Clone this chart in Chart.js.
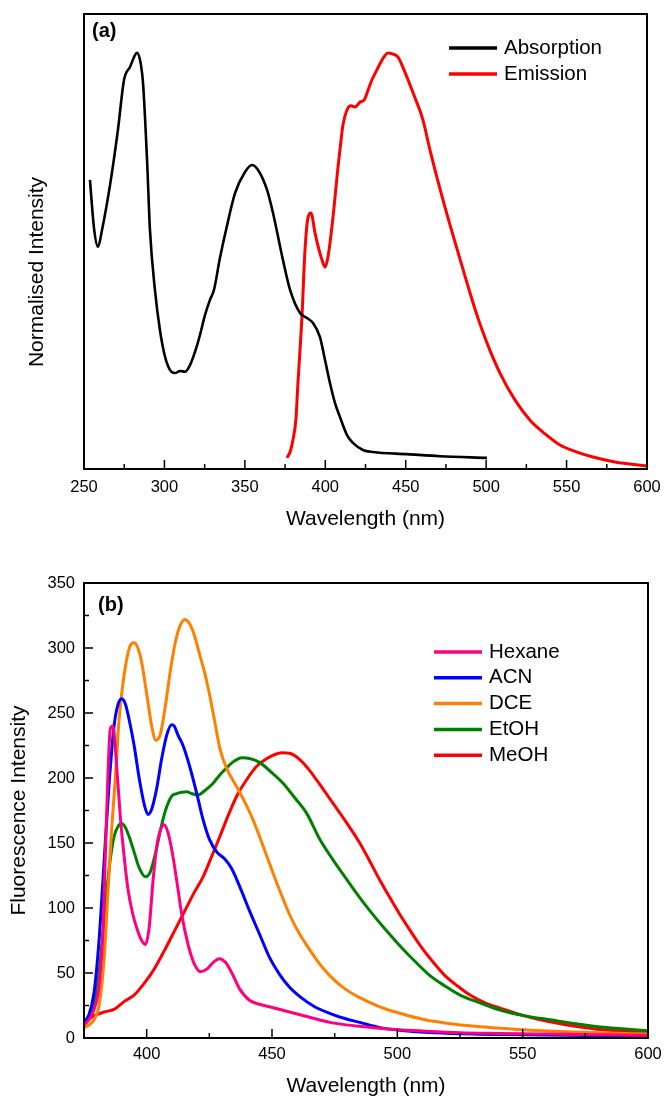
<!DOCTYPE html>
<html>
<head>
<meta charset="utf-8">
<script src="https://cdn.jsdelivr.net/npm/chart.js@4.4.0/dist/chart.umd.min.js"></script>
<style>
    body { margin: 0; background: #fff; }
    canvas { display: block; }
</style>
</head>
<body>
<canvas id="absChart" width="664" height="540"></canvas>
<canvas id="solventChart" width="664" height="559"></canvas>
<script>
// ---------- panel (a): normalised absorption / emission
const absWavelength = [253.7, 256.2, 258.7, 261.2, 266.2, 271.1, 274.9, 278.6, 283, 285.4, 286.7, 289.2, 291, 294.1, 297.2, 300.4, 303.5, 306.6, 309.7, 312.8, 315.9, 319, 322.1, 325.2, 328.3, 330.8, 334.5, 338.3, 343.9, 350.1, 354.4, 358.2, 363.8, 367.5, 373.7, 378.1, 384.3, 388.6, 392.4, 396.7, 399.8, 402.9, 406, 409.1, 413.5, 417.2, 423.4, 429.7, 450.8, 471.3, 500.5];
const absIntensity = [0.699, 0.583, 0.537, 0.578, 0.687, 0.82, 0.941, 0.972, 1.006, 0.977, 0.933, 0.747, 0.578, 0.433, 0.336, 0.271, 0.239, 0.232, 0.237, 0.235, 0.251, 0.283, 0.324, 0.372, 0.409, 0.433, 0.51, 0.578, 0.667, 0.718, 0.735, 0.723, 0.675, 0.619, 0.505, 0.433, 0.377, 0.365, 0.353, 0.319, 0.264, 0.208, 0.16, 0.126, 0.082, 0.063, 0.046, 0.041, 0.036, 0.031, 0.027];

const emWavelength = [376.2, 378.1, 379.9, 381.8, 383, 384.3, 385.5, 387.4, 389.3, 391.1, 393.6, 396.1, 398, 399.8, 401.7, 404.8, 407.9, 409.1, 411, 413.5, 416, 418.5, 421.6, 424.1, 426.6, 429, 432.1, 434.6, 439, 442.1, 445.2, 450.2, 455.1, 460.7, 465.1, 473.2, 480.6, 488.1, 494.3, 500.5, 508.6, 517.9, 527.3, 536.6, 545.9, 556.5, 566.4, 580.1, 600];
const emIntensity = [0.027, 0.041, 0.07, 0.123, 0.208, 0.288, 0.368, 0.53, 0.609, 0.619, 0.571, 0.53, 0.505, 0.488, 0.513, 0.609, 0.73, 0.771, 0.832, 0.868, 0.878, 0.875, 0.887, 0.892, 0.916, 0.941, 0.965, 0.984, 1.006, 1.003, 0.996, 0.953, 0.904, 0.844, 0.771, 0.65, 0.549, 0.45, 0.372, 0.305, 0.232, 0.167, 0.118, 0.085, 0.058, 0.041, 0.029, 0.017, 0.007];

const topXLabels = [250, 300, 350, 400, 450, 500, 550, 600];
const topXMinor = [275, 325, 375, 425, 475, 525, 575];

// ---------- panel (b): fluorescence in different solvents
const hexWavelength = [375, 377, 379, 381, 382.5, 383.5, 384.5, 385.5, 386.5, 388, 389.5, 391, 392.5, 394.5, 396.5, 398, 399.5, 401, 402.5, 404, 405.5, 407, 408.5, 410, 412, 414, 416.5, 419, 421.5, 424, 426.5, 429, 431.5, 434, 437, 441, 445, 449, 457, 465, 473, 485, 496, 509, 525, 541, 560, 580, 600];
const hexIntensity = [10, 14, 22, 40, 80, 140, 200, 238, 240, 210, 170, 140, 115, 95, 82, 75, 72, 85, 120, 147, 160, 164, 158, 145, 121, 95, 72, 57, 51, 53, 58, 61, 58, 50, 38, 29, 26, 24, 20, 16, 12, 9, 7, 5.5, 4, 3.5, 3, 2.5, 2];

const acnWavelength = [375, 377, 379, 381, 383, 385, 387, 388.5, 390, 391.5, 393, 395, 397, 399, 400.5, 402, 404, 406, 408, 410, 411, 412.5, 414.5, 417, 420, 422.5, 425, 428, 431, 434, 437, 441, 445, 449, 453, 457, 461, 467, 473, 479, 485, 493, 501, 515, 530, 550, 575, 600];
const acnIntensity = [12, 18, 35, 75, 135, 195, 240, 256, 261, 257, 245, 225, 200, 180, 172, 176, 192, 215, 233, 241, 240, 233, 225, 210, 188, 168, 153, 143, 138, 130, 117, 98, 80, 62, 49, 39, 32, 24, 19, 15, 12, 8, 6, 4, 3, 2.5, 2, 1.5];

const dceWavelength = [375, 377, 379, 381, 383, 384.5, 386, 387.5, 389, 390.5, 392, 393.5, 395, 396.5, 398, 400, 402, 403.7, 405.5, 407.5, 409.5, 411.5, 413.5, 415.3, 417, 419, 421, 423, 425, 427, 429.3, 432, 436, 439, 442.4, 446, 450.4, 454, 457, 461, 465, 469, 473, 479, 485, 493, 501, 511, 521, 531, 541, 553, 565, 580, 600];
const dceIntensity = [8, 10, 14, 25, 60, 110, 160, 200, 245, 272, 291, 302, 304, 300, 289, 265, 240, 229, 234, 256, 283, 305, 318, 322, 319, 310, 296, 282, 265, 245, 222, 207, 193, 182, 168, 150, 127, 109, 95, 80, 68, 57, 48, 38, 31, 24, 19, 14, 11, 9, 7.5, 6, 5, 4, 3];

const etohWavelength = [375, 377, 379, 381, 383, 385, 387, 389, 390, 391.5, 393, 395, 397, 399.5, 401.5, 403.5, 405.5, 407.5, 410, 412, 414, 416, 418, 420.5, 423, 426.5, 429, 432, 435, 438, 441, 445, 450, 454.4, 459, 463.8, 469, 474, 479.8, 485, 489, 495, 501, 507, 513, 519, 525, 533, 541, 551, 561, 571, 581, 591, 600];
const etohIntensity = [12, 15, 25, 50, 90, 130, 155, 164, 165, 162, 155, 143, 131, 124, 128, 142, 160, 175, 186, 188, 189, 189.5, 188, 187, 190, 196, 202, 208, 213, 215.5, 215, 212, 204, 196, 185, 173, 153, 138, 122, 108, 98, 84, 71, 59, 48, 40, 33, 27, 21.5, 17, 14, 11, 8.5, 7, 5.5];

const meohWavelength = [375, 379, 383, 387, 391, 395, 399, 403, 407, 411, 415, 419, 422.5, 426, 429.2, 432.5, 435.9, 440, 443.9, 448, 451, 453.9, 457, 461.2, 464.5, 467.8, 472, 477.1, 481, 485, 489, 493, 497, 501, 505, 509, 514, 519, 524, 529, 535, 541, 549, 557, 565, 573, 581, 589, 600];
const meohIntensity = [12, 17, 20, 22, 28, 33, 42, 53, 67, 82, 97, 112, 124, 140, 155, 171, 186, 199, 209, 215, 218, 219.5, 219, 214, 207, 198.5, 187, 173, 162, 150, 136, 121.5, 108, 95, 83, 71.5, 59, 48, 40, 33, 27, 23, 18, 14, 11, 8.5, 6.5, 5.4, 3.8];

const bottomXLabels = [400, 450, 500, 550, 600];
const bottomXMinor = [425, 475, 525, 575];
const bottomYLabels = [0, 50, 100, 150, 200, 250, 300, 350];
const bottomYMinor = [25, 75, 125, 175, 225, 275, 325];

Chart.defaults.font.family = '"Liberation Sans", Arial, sans-serif';
Chart.defaults.color = '#000';

const toPoints = (xs, ys) => xs.map((x, i) => ({x: x, y: ys[i]}));

// frame, inward ticks, legend inside plot, panel letter
const framePlugin = {
    id: 'frame',
    afterDatasetsDraw(chart, args, opts) {
        const {ctx, chartArea: a, scales} = chart;
        ctx.save();
        ctx.strokeStyle = '#000';
        ctx.lineWidth = 1.5;
        const xTick = (vals, len) => vals.forEach(v => {
            const px = scales.x.getPixelForValue(v);
            ctx.beginPath(); ctx.moveTo(px, a.bottom); ctx.lineTo(px, a.bottom - len); ctx.stroke();
        });
        const yTick = (vals, len) => vals.forEach(v => {
            const py = scales.y.getPixelForValue(v);
            ctx.beginPath(); ctx.moveTo(a.left, py); ctx.lineTo(a.left + len, py); ctx.stroke();
        });
        xTick(opts.xMajor || [], 9);
        xTick(opts.xMinor || [], 5);
        yTick(opts.yMajor || [], 9);
        yTick(opts.yMinor || [], 5);

        ctx.lineWidth = 2;
        ctx.strokeRect(a.left, a.top, a.right - a.left, a.bottom - a.top);

        const lg = opts.legend;
        ctx.font = '20.5px "Liberation Sans", Arial, sans-serif';
        ctx.textBaseline = 'middle';
        ctx.textAlign = 'left';
        chart.data.datasets.forEach((ds, i) => {
            const y = lg.y + i * lg.dy;
            ctx.strokeStyle = ds.borderColor;
            ctx.lineWidth = 3.5;
            ctx.beginPath(); ctx.moveTo(lg.x, y); ctx.lineTo(lg.x + 48, y); ctx.stroke();
            ctx.fillStyle = '#000';
            ctx.fillText(ds.label, lg.x + 55, y);
        });

        ctx.font = 'bold 20px "Liberation Sans", Arial, sans-serif';
        ctx.fillText(opts.panel.text, opts.panel.x, opts.panel.y);

        if (opts.yTitle) {
            ctx.font = '21px "Liberation Sans", Arial, sans-serif';
            ctx.translate(opts.yTitle.x, opts.yTitle.y);
            ctx.rotate(-Math.PI / 2);
            ctx.textAlign = 'center';
            ctx.fillText(opts.yTitle.text, 0, 0);
        }
        ctx.restore();
    }
};

//////////////////////// panel (a)

const absConfig = {
    type: 'line',
    data: {
        datasets: [{
            label: 'Absorption',
            data: toPoints(absWavelength, absIntensity),
            borderColor: '#000000',
            borderWidth: 2.6,
        }, {
            label: 'Emission',
            data: toPoints(emWavelength, emIntensity),
            borderColor: '#ff0000',
            borderWidth: 3,
        }]
    },
    options: {
        responsive: false,
        animation: false,
        devicePixelRatio: 1,
        cubicInterpolationMode: 'monotone',
        elements: { point: { radius: 0 } },
        layout: { padding: { top: 14, right: 17, left: 84, bottom: 0 } },
        plugins: {
            legend: { display: false },
            tooltip: { enabled: false },
            frame: {
                xMajor: topXLabels,
                xMinor: topXMinor,
                legend: { x: 449, y: 48, dy: 26 },
                panel: { text: '(a)', x: 92, y: 31 },
                yTitle: { text: 'Normalised Intensity', x: 37, y: 272 },
            }
        },
        scales: {
            x: {
                type: 'linear',
                min: 250,
                max: 600,
                afterBuildTicks: scale => { scale.ticks = topXLabels.map(v => ({value: v})); },
                afterFit: scale => {
                    scale.height = 71;
                    scale.paddingLeft = 0;
                    scale.paddingRight = 0;
                },
                grid: { display: false, drawTicks: false },
                border: { display: false },
                ticks: { font: { size: 16.5 }, padding: 9, maxRotation: 0 },
                title: { display: true, text: 'Wavelength (nm)', font: { size: 21 }, padding: { top: 0, bottom: 8 } }
            },
            y: {
                display: false,
                min: 0,
                max: 1.1
            }
        }
    },
    plugins: [framePlugin]
};

const absChart = new Chart(
    document.getElementById('absChart'),
    absConfig
);

//////////////////////// panel (b)

const solventConfig = {
    type: 'line',
    data: {
        datasets: [{
            label: 'Hexane',
            data: toPoints(hexWavelength, hexIntensity),
            borderColor: '#ff0080',
        }, {
            label: 'ACN',
            data: toPoints(acnWavelength, acnIntensity),
            borderColor: '#0000ff',
        }, {
            label: 'DCE',
            data: toPoints(dceWavelength, dceIntensity),
            borderColor: '#ff8000',
        }, {
            label: 'EtOH',
            data: toPoints(etohWavelength, etohIntensity),
            borderColor: '#008000',
        }, {
            label: 'MeOH',
            data: toPoints(meohWavelength, meohIntensity),
            borderColor: '#ff0000',
        }]
    },
    options: {
        responsive: false,
        animation: false,
        devicePixelRatio: 1,
        cubicInterpolationMode: 'monotone',
        elements: { point: { radius: 0 }, line: { borderWidth: 3 } },
        layout: { padding: { top: 43, right: 16, left: 0, bottom: 0 } },
        plugins: {
            legend: { display: false },
            tooltip: { enabled: false },
            frame: {
                xMajor: bottomXLabels,
                xMinor: bottomXMinor,
                yMajor: bottomYLabels,
                yMinor: bottomYMinor,
                legend: { x: 434, y: 112, dy: 25.8 },
                panel: { text: '(b)', x: 98, y: 65 },
            }
        },
        scales: {
            x: {
                type: 'linear',
                min: 375,
                max: 600,
                afterBuildTicks: scale => { scale.ticks = bottomXLabels.map(v => ({value: v})); },
                afterFit: scale => {
                    scale.height = 61;
                    scale.paddingLeft = 0;
                    scale.paddingRight = 0;
                },
                grid: { display: false, drawTicks: false },
                border: { display: false },
                ticks: { font: { size: 16.5 }, padding: 7, maxRotation: 0 },
                title: { display: true, text: 'Wavelength (nm)', font: { size: 21 }, padding: { top: 0, bottom: 0 } }
            },
            y: {
                min: 0,
                max: 350,
                afterBuildTicks: scale => { scale.ticks = bottomYLabels.map(v => ({value: v})); },
                afterFit: scale => { scale.width = 84; },
                grid: { display: false, drawTicks: false },
                border: { display: false },
                ticks: { font: { size: 16.5 }, padding: 9 },
                title: { display: true, text: 'Fluorescence Intensity', font: { size: 21 }, padding: { top: 7, bottom: 0 } }
            }
        }
    },
    plugins: [framePlugin]
};

const solventChart = new Chart(
    document.getElementById('solventChart'),
    solventConfig
);
</script>
</body>
</html>
